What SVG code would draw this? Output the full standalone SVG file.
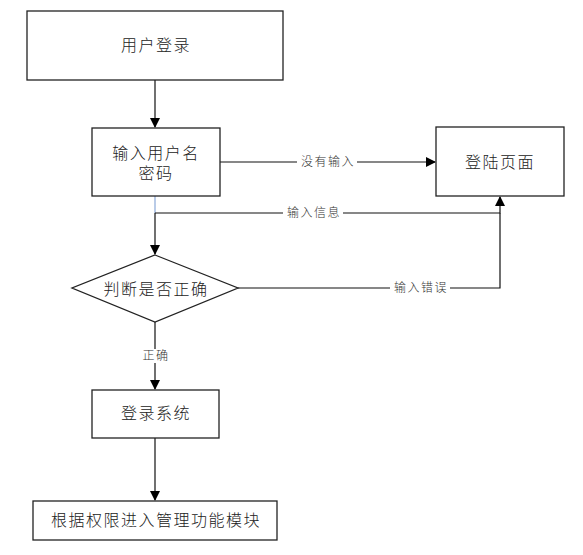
<svg xmlns="http://www.w3.org/2000/svg" width="583" height="555" viewBox="0 0 583 555">
<style>
.box{fill:#fff;stroke:#222;stroke-width:1.3}
.t{font-family:"Liberation Sans","Noto Sans CJK SC",sans-serif;font-size:16px;letter-spacing:1.5px;fill:#222;text-anchor:middle;dominant-baseline:central;font-weight:300}
.l{font-family:"Liberation Sans","Noto Sans CJK SC",sans-serif;font-size:12px;letter-spacing:1.5px;fill:#333;text-anchor:middle;dominant-baseline:central;font-weight:300}
.c{fill:none;stroke:#111;stroke-width:1.2}
.bg{fill:#fff}
</style>
<defs>
<marker id="a" markerWidth="10" markerHeight="10" refX="9" refY="5" orient="auto" markerUnits="userSpaceOnUse">
<path d="M0,0 L10,5 L0,10 Z" fill="#000"/>
</marker>
</defs>
<rect width="583" height="555" fill="#fff"/>
<g id="connectors">
<path class="c" d="M155,80 V127" marker-end="url(#a)"/>
<path class="c" d="M220,162 H435" marker-end="url(#a)"/>
<path d="M155,196 V213" stroke="#8aa8d8" stroke-width="1.2" fill="none"/>
<path class="c" d="M155,213 V254" marker-end="url(#a)"/>
<path class="c" d="M155,213 H500 V197" marker-end="url(#a)"/>
<path class="c" d="M238,288 H500 V213"/>
<path class="c" d="M155,322 V389" marker-end="url(#a)"/>
<path class="c" d="M155,438 V500" marker-end="url(#a)"/>
<rect class="bg" x="297" y="155" width="60" height="14"/>
<text class="l" x="328" y="162">没有输入</text>
<rect class="bg" x="283" y="206" width="60" height="14"/>
<text class="l" x="314" y="213">输入信息</text>
<rect class="bg" x="390" y="281" width="60" height="14"/>
<text class="l" x="421" y="288">输入错误</text>
<rect class="bg" x="139" y="349" width="32" height="14"/>
<text class="l" x="156" y="356">正确</text>
</g>
<g id="n1">
<rect class="box" x="27" y="11" width="256" height="69"/>
<text class="t" x="156" y="45">用户登录</text>
</g>
<g id="n2">
<rect class="box" x="92" y="128" width="128" height="68"/>
<text class="t" x="156" y="153">输入用户名</text>
<text class="t" x="156" y="173">密码</text>
</g>
<g id="n3">
<rect class="box" x="436" y="127" width="128" height="69"/>
<text class="t" x="500" y="162">登陆页面</text>
</g>
<g id="n4">
<polygon class="box" points="155,255 238,288 155,322 72,288"/>
<text class="t" x="156" y="289">判断是否正确</text>
</g>
<g id="n5">
<rect class="box" x="92" y="390" width="127" height="48"/>
<text class="t" x="156" y="413">登录系统</text>
</g>
<g id="n6">
<rect class="box" x="33" y="501" width="244" height="39"/>
<text class="t" x="156" y="520">根据权限进入管理功能模块</text>
</g>
</svg>
